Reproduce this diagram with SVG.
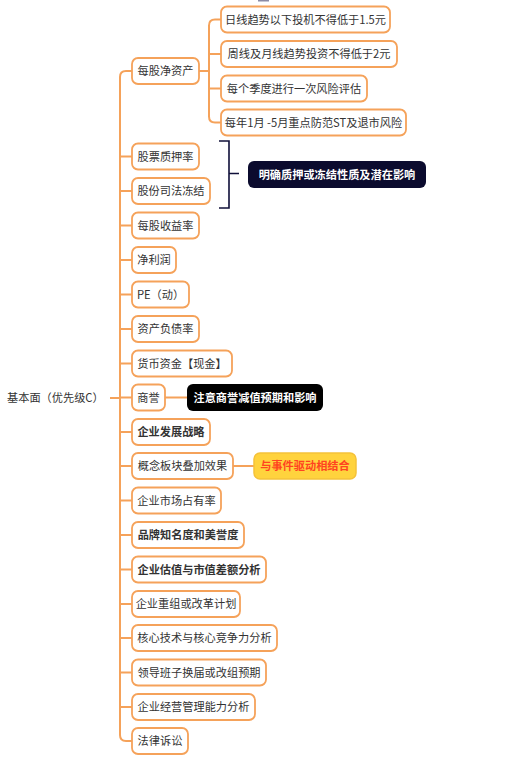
<svg xmlns="http://www.w3.org/2000/svg" width="514" height="762" viewBox="0 0 514 762">
<style>
.b{fill:#fff;stroke:#F5A25A;stroke-width:1.8}
.t{font-family:"Noto Sans CJK SC","Noto Sans",sans-serif;font-size:11.2px;fill:#333;text-anchor:middle}
.bold{font-weight:bold}
.c{fill:none;stroke:#F5A25A;stroke-width:2}
.n{fill:none;stroke:#10103a;stroke-width:1.6}
</style>
<rect width="514" height="762" fill="#fff"/>
<rect x="258" y="0" width="11" height="1.5" fill="#8c8ca6"/>
<g id="connectors">
<path class="c" d="M110,398 H120"/>
<path class="c" d="M132,71 H126 Q120,71 120,77 V735 Q120,741 126,741 H132"/>
<path class="c" d="M120,156.5 H132 M120,191 H132 M120,225.5 H132 M120,260 H132 M120,294.5 H132 M120,329 H132 M120,363.5 H132 M120,397.5 H132 M120,432 H132 M120,466 H132 M120,500.5 H132 M120,535 H132 M120,569.5 H132 M120,604 H132 M120,638 H132 M120,672.5 H132 M120,707 H132"/>
<path class="c" d="M199,71 H209 M221,19.5 H215 Q209,19.5 209,25.5 V116.5 Q209,122.5 215,122.5 H221 M209,54 H221 M209,88.5 H221"/>
<path class="c" d="M165,397.5 H187 M233,466 H254"/>
<path class="n" d="M219,141 H229 V208 H219 M229,173.5 H239"/>
</g>
<g id="root"><text class="t" x="7" y="402" style="text-anchor:start">基本面（优先级C）</text></g>
<g id="n1"><rect class="b" x="132" y="58" width="67" height="26" rx="6"/><text class="t" x="165.5" y="75">每股净资产</text></g>
<g id="n1a"><rect class="b" x="221" y="6.5" width="169" height="26" rx="6"/><text class="t" x="305.5" y="23.5">日线趋势以下投机不得低于1.5元</text></g>
<g id="n1b"><rect class="b" x="221" y="41" width="176" height="26" rx="6"/><text class="t" x="309" y="58">周线及月线趋势投资不得低于2元</text></g>
<g id="n1c"><rect class="b" x="221" y="75.5" width="146" height="26" rx="6"/><text class="t" x="294" y="92.5">每个季度进行一次风险评估</text></g>
<g id="n1d"><rect class="b" x="221" y="109.5" width="185" height="26" rx="6"/><text class="t" x="313.5" y="126.5">每年1月 -5月重点防范ST及退市风险</text></g>
<g id="n2"><rect class="b" x="132" y="143.5" width="67" height="26" rx="6"/><text class="t" x="165.5" y="160.5">股票质押率</text></g>
<g id="n3"><rect class="b" x="132" y="178" width="78" height="26" rx="6"/><text class="t" x="171" y="195">股份司法冻结</text></g>
<g id="note1"><rect x="248" y="161" width="178" height="27" rx="6" fill="#0b0b2e"/><text class="t bold" x="337" y="178.5" style="fill:#fff">明确质押或冻结性质及潜在影响</text></g>
<g id="n4"><rect class="b" x="132" y="212.5" width="67" height="26" rx="6"/><text class="t" x="165.5" y="229.5">每股收益率</text></g>
<g id="n5"><rect class="b" x="132" y="247" width="44" height="26" rx="6"/><text class="t" x="154" y="264">净利润</text></g>
<g id="n6"><rect class="b" x="132" y="281.5" width="57" height="26" rx="6"/><text class="t" x="160.5" y="298.5">PE（动）</text></g>
<g id="n7"><rect class="b" x="132" y="316" width="67" height="26" rx="6"/><text class="t" x="165.5" y="333">资产负债率</text></g>
<g id="n8"><rect class="b" x="132" y="350.5" width="100" height="26" rx="6"/><text class="t" x="182" y="367.5">货币资金【现金】</text></g>
<g id="n9"><rect class="b" x="132" y="384.5" width="33" height="26" rx="6"/><text class="t" x="148.5" y="401.5">商誉</text></g>
<g id="note2"><rect x="187" y="384" width="136" height="27" rx="6" fill="#000"/><text class="t bold" x="255" y="401.5" style="fill:#fff">注意商誉减值预期和影响</text></g>
<g id="n10"><rect class="b" x="132" y="419" width="78" height="26" rx="6"/><text class="t bold" x="171" y="436">企业发展战略</text></g>
<g id="n11"><rect class="b" x="132" y="453" width="101" height="26" rx="6"/><text class="t" x="182.5" y="470">概念板块叠加效果</text></g>
<g id="note3"><rect x="254" y="453" width="102" height="26" rx="6" fill="#FFD33D" stroke="#F5C23A" stroke-width="1.5"/><text class="t bold" x="305" y="470" style="fill:#FF4420">与事件驱动相结合</text></g>
<g id="n12"><rect class="b" x="132" y="487.5" width="89" height="26" rx="6"/><text class="t" x="176.5" y="504.5">企业市场占有率</text></g>
<g id="n13"><rect class="b" x="132" y="522" width="112" height="26" rx="6"/><text class="t bold" x="188" y="539">品牌知名度和美誉度</text></g>
<g id="n14"><rect class="b" x="132" y="556.5" width="134" height="26" rx="6"/><text class="t bold" x="199" y="573.5">企业估值与市值差额分析</text></g>
<g id="n15"><rect class="b" x="132" y="591" width="108" height="26" rx="6"/><text class="t" x="186" y="608">企业重组或改革计划</text></g>
<g id="n16"><rect class="b" x="132" y="625" width="145" height="26" rx="6"/><text class="t" x="204.5" y="642">核心技术与核心竞争力分析</text></g>
<g id="n17"><rect class="b" x="132" y="659.5" width="134" height="26" rx="6"/><text class="t" x="199" y="676.5">领导班子换届或改组预期</text></g>
<g id="n18"><rect class="b" x="132" y="694" width="123" height="26" rx="6"/><text class="t" x="193.5" y="711">企业经营管理能力分析</text></g>
<g id="n19"><rect class="b" x="132" y="728" width="56" height="26" rx="6"/><text class="t" x="160" y="745">法律诉讼</text></g>
</svg>
